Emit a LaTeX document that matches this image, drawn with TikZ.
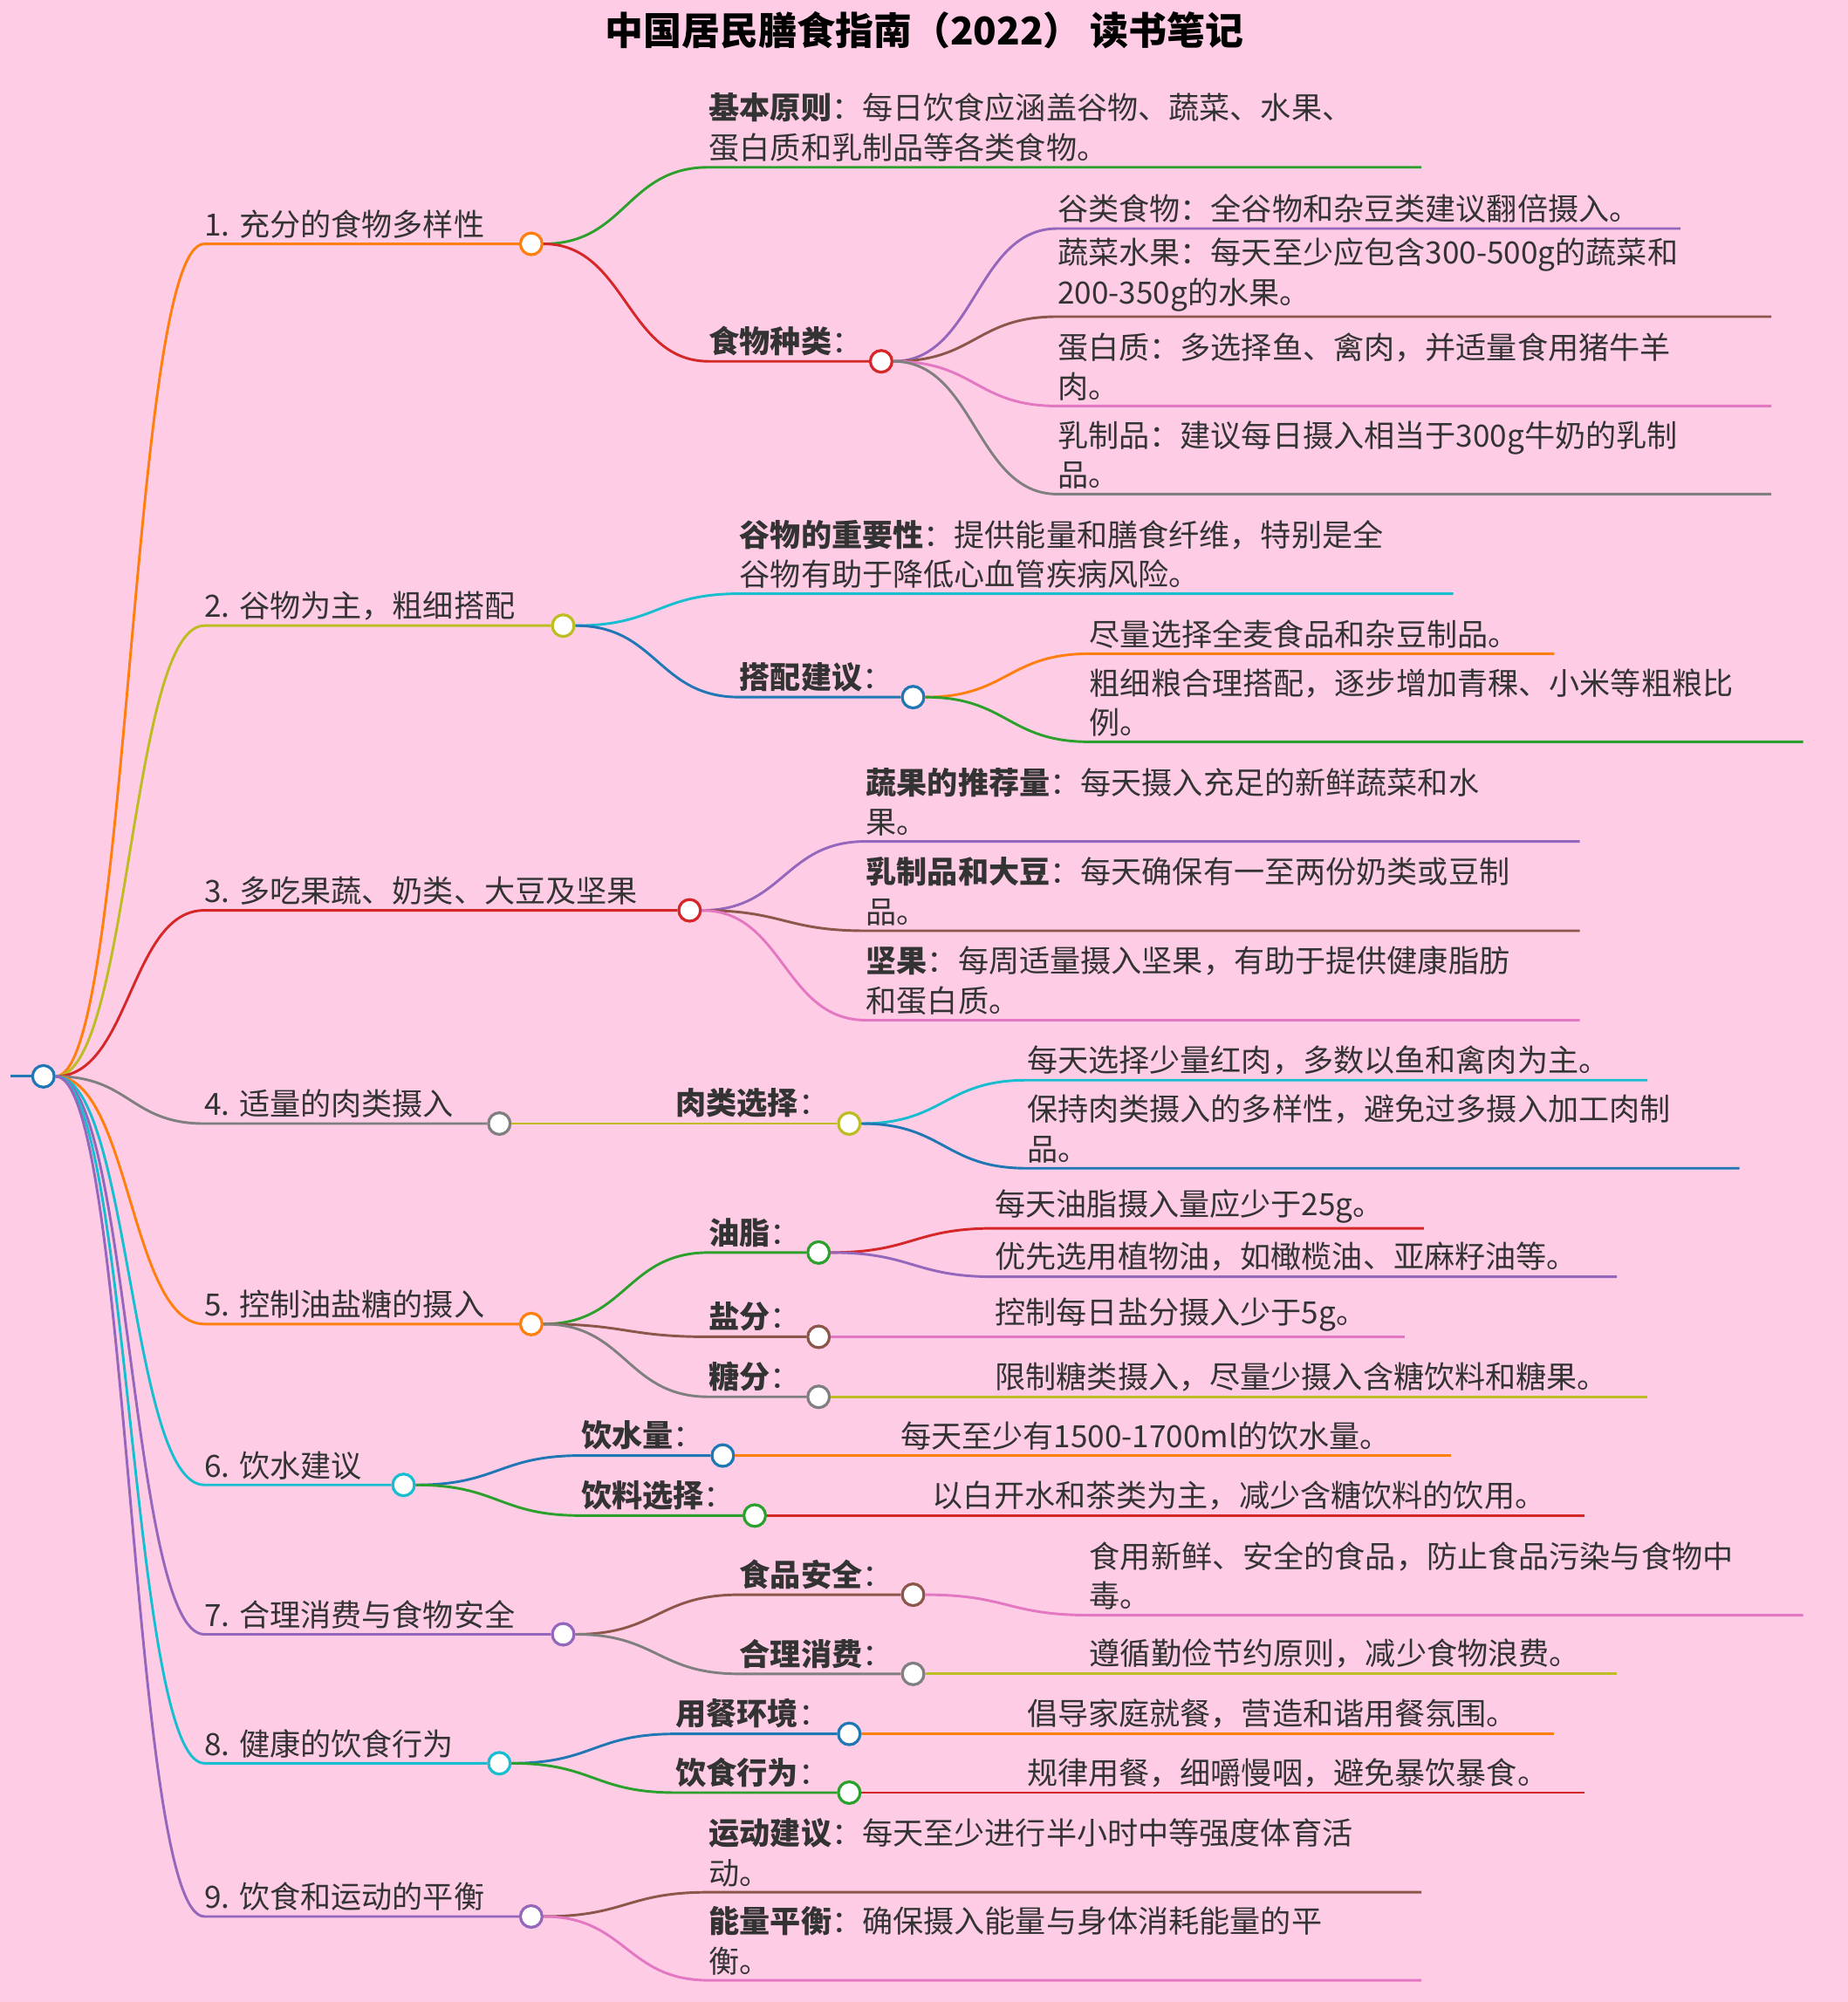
\documentclass[tikz,border=0pt]{standalone}
\usepackage{fontspec}
\setmainfont{Noto Sans CJK SC}
\usetikzlibrary{calc}
\definecolor{bg}{RGB}{255,204,229}
\definecolor{tx}{RGB}{51,51,51}
\definecolor{cor}{HTML}{FF7F0E}
\definecolor{cgr}{HTML}{2CA02C}
\definecolor{cre}{HTML}{D62728}
\definecolor{cpu}{HTML}{9467BD}
\definecolor{cbr}{HTML}{8C564B}
\definecolor{cpi}{HTML}{E377C2}
\definecolor{cgy}{HTML}{7F7F7F}
\definecolor{col}{HTML}{BCBD22}
\definecolor{ccy}{HTML}{17BECF}
\definecolor{cbl}{HTML}{1F77B4}
\tikzset{
  ln/.style={draw=#1,line width=2pt},
  dot/.style={circle,draw=#1,fill=white,line width=2.2pt,minimum size=17pt,inner sep=0pt},
  txt/.style={text=tx,font=\fontsize{24}{31}\selectfont,inner sep=0pt,align=left,anchor=south west},
}
% leaf: parent, id, x, y, xend, color, text
\newcommand\leaf[7]{%
  \coordinate (#2s) at (#3,#4);
  \coordinate (#2) at (#5,#4);
  \draw[ln=#6] let \p1=(#1.east),\p2=(#2s) in (\p1) .. controls ({(\x1+\x2)/2},\y1) and ({(\x1+\x2)/2},\y2) .. (\p2) -- (#2);
  \node[txt] (#2t) at ({#3},{#4-4}) {#7};
}
% midnode: parent, id, x, y, xcircle, color, text
\newcommand\midnode[7]{%
  \coordinate (#2s) at (#3,#4);
  \node[dot=#6] (#2) at (#5,#4) {};
  \draw[ln=#6] let \p1=(#1.east),\p2=(#2s) in (\p1) .. controls ({(\x1+\x2)/2},\y1) and ({(\x1+\x2)/2},\y2) .. (\p2) -- (#2.west);
  \node[txt] (#2t) at ({#3},{#4-4}) {#7};
}
\begin{document}
\begin{tikzpicture}[x=1pt,y=-1pt]
\fill[bg] (0,0) rectangle (1447,1568);
\useasboundingbox (0,0) rectangle (1447,1568);
\node[text=black,font=\fontsize{30}{36}\selectfont\bfseries] (title) at (724,24) {中国居民膳食指南（2022） 读书笔记};
% root
\coordinate (r0) at (8,843);
\node[dot=cbl] (root) at (34,843) {};
\draw[ln=cbl] (r0) -- (root.west);
% branch 1
\midnode{root}{a}{160}{191}{416}{cor}{1. 充分的食物多样性}
\leaf{a}{a1}{555}{131}{1113}{cgr}{\textbf{基本原则}：每日饮食应涵盖谷物、蔬菜、水果、\\蛋白质和乳制品等各类食物。}
\midnode{a}{a2}{555}{283}{690}{cre}{\textbf{食物种类}：}
\leaf{a2}{a21}{828}{179}{1316}{cpu}{谷类食物：全谷物和杂豆类建议翻倍摄入。}
\leaf{a2}{a22}{828}{248}{1387}{cbr}{蔬菜水果：每天至少应包含300-500g的蔬菜和\\200-350g的水果。}
\leaf{a2}{a23}{828}{318}{1387}{cpi}{蛋白质：多选择鱼、禽肉，并适量食用猪牛羊\\肉。}
\leaf{a2}{a24}{828}{387}{1387}{cgy}{乳制品：建议每日摄入相当于300g牛奶的乳制\\品。}
% branch 2
\midnode{root}{b}{160}{490}{441}{col}{2. 谷物为主，粗细搭配}
\leaf{b}{b1}{579}{465}{1138}{ccy}{\textbf{谷物的重要性}：提供能量和膳食纤维，特别是全\\谷物有助于降低心血管疾病风险。}
\midnode{b}{b2}{579}{546}{715}{cbl}{\textbf{搭配建议}：}
\leaf{b2}{b21}{853}{512}{1217}{cor}{尽量选择全麦食品和杂豆制品。}
\leaf{b2}{b22}{853}{581}{1412}{cgr}{粗细粮合理搭配，逐步增加青稞、小米等粗粮比\\例。}
% branch 3
\midnode{root}{c}{160}{713}{540}{cre}{3. 多吃果蔬、奶类、大豆及坚果}
\leaf{c}{c1}{678}{659}{1237}{cpu}{\textbf{蔬果的推荐量}：每天摄入充足的新鲜蔬菜和水\\果。}
\leaf{c}{c2}{678}{729}{1237}{cbr}{\textbf{乳制品和大豆}：每天确保有一至两份奶类或豆制\\品。}
\leaf{c}{c3}{678}{799}{1237}{cpi}{\textbf{坚果}：每周适量摄入坚果，有助于提供健康脂肪\\和蛋白质。}
% branch 4
\midnode{root}{d}{160}{880}{391}{cgy}{4. 适量的肉类摄入}
\midnode{d}{d1}{529}{880}{665}{col}{\textbf{肉类选择}：}
\leaf{d1}{d11}{804}{846}{1290}{ccy}{每天选择少量红肉，多数以鱼和禽肉为主。}
\leaf{d1}{d12}{804}{915}{1362}{cbl}{保持肉类摄入的多样性，避免过多摄入加工肉制\\品。}
% branch 5
\midnode{root}{e}{160}{1037}{416}{cor}{5. 控制油盐糖的摄入}
\midnode{e}{e1}{555}{981}{641}{cgr}{\textbf{油脂}：}
\leaf{e1}{e11}{779}{962}{1115}{cre}{每天油脂摄入量应少于25g。}
\leaf{e1}{e12}{779}{1000}{1266}{cpu}{优先选用植物油，如橄榄油、亚麻籽油等。}
\midnode{e}{e2}{555}{1047}{641}{cbr}{\textbf{盐分}：}
\leaf{e2}{e21}{779}{1047}{1100}{cpi}{控制每日盐分摄入少于5g。}
\midnode{e}{e3}{555}{1094}{641}{cgy}{\textbf{糖分}：}
\leaf{e3}{e31}{779}{1094}{1290}{col}{限制糖类摄入，尽量少摄入含糖饮料和糖果。}
% branch 6
\midnode{root}{f}{160}{1163}{316}{ccy}{6. 饮水建议}
\midnode{f}{f1}{455}{1140}{566}{cbl}{\textbf{饮水量}：}
\leaf{f1}{f11}{705}{1140}{1136}{cor}{每天至少有1500-1700ml的饮水量。}
\midnode{f}{f2}{455}{1187}{591}{cgr}{\textbf{饮料选择}：}
\leaf{f2}{f21}{730}{1187}{1241}{cre}{以白开水和茶类为主，减少含糖饮料的饮用。}
% branch 7
\midnode{root}{g}{160}{1280}{441}{cpu}{7. 合理消费与食物安全}
\midnode{g}{g1}{579}{1249}{715}{cbr}{\textbf{食品安全}：}
\leaf{g1}{g11}{853}{1265}{1412}{cpi}{食用新鲜、安全的食品，防止食品污染与食物中\\毒。}
\midnode{g}{g2}{579}{1311}{715}{cgy}{\textbf{合理消费}：}
\leaf{g2}{g21}{853}{1311}{1266}{col}{遵循勤俭节约原则，减少食物浪费。}
% branch 8
\midnode{root}{h}{160}{1381}{391}{ccy}{8. 健康的饮食行为}
\midnode{h}{h1}{529}{1358}{665}{cbl}{\textbf{用餐环境}：}
\leaf{h1}{h11}{804}{1358}{1217}{cor}{倡导家庭就餐，营造和谐用餐氛围。}
\midnode{h}{h2}{529}{1404}{665}{cgr}{\textbf{饮食行为}：}
\leaf{h2}{h21}{804}{1404}{1241}{cre}{规律用餐，细嚼慢咽，避免暴饮暴食。}
% branch 9
\midnode{root}{k}{160}{1501}{416}{cpu}{9. 饮食和运动的平衡}
\leaf{k}{k1}{555}{1482}{1113}{cbr}{\textbf{运动建议}：每天至少进行半小时中等强度体育活\\动。}
\leaf{k}{k2}{555}{1551}{1113}{cpi}{\textbf{能量平衡}：确保摄入能量与身体消耗能量的平\\衡。}
\end{tikzpicture}
\end{document}
